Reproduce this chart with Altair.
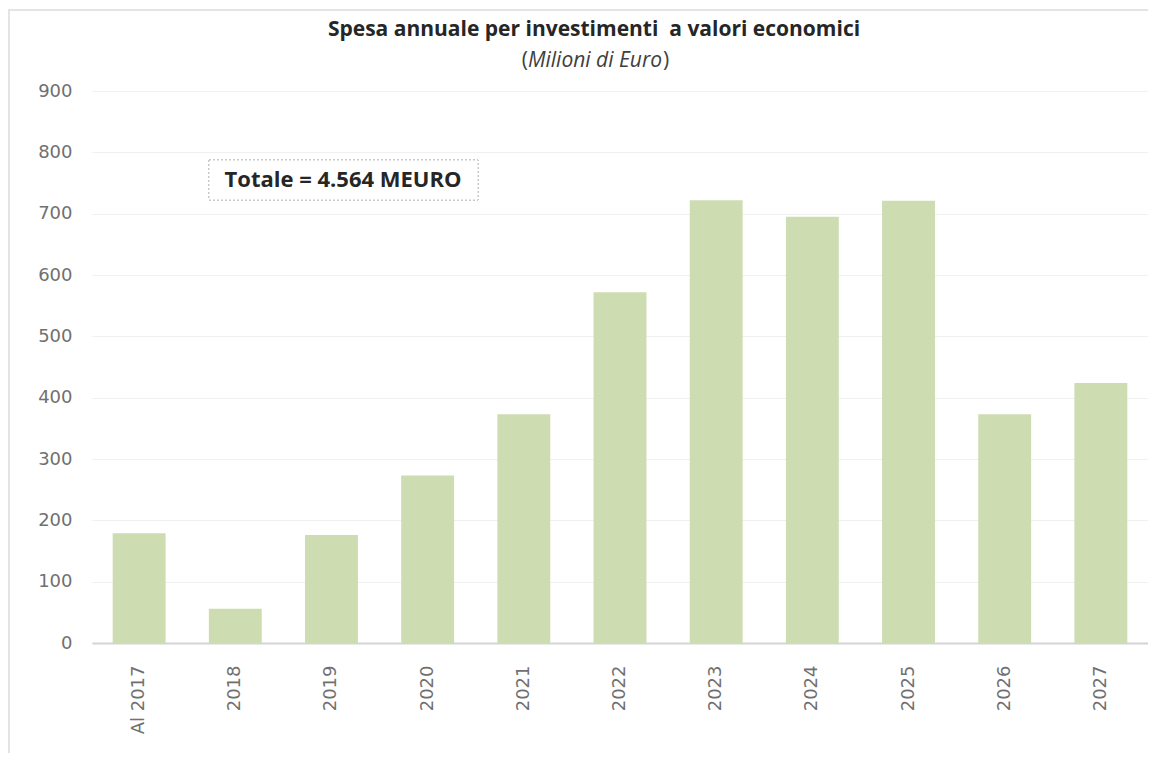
import altair as alt
import pandas as pd

categories = ["Al 2017", "2018", "2019", "2020", "2021", "2022", "2023", "2024", "2025", "2026", "2027"]
values = [179, 56, 176, 273, 373, 572, 722, 695, 721, 373, 424]
y_ticks = [0, 100, 200, 300, 400, 500, 600, 700, 800, 900]

title_text = "Spesa annuale per investimenti \u00a0a valori economici"
subtitle_text = "Milioni di Euro"
total_text = "Totale = 4.564 MEURO"

df = pd.DataFrame({"anno": categories, "valore": values})

FONT = "Open Sans"
LABEL_FONT = "DejaVu Sans"
BAR_COLOR = "#cddcb1"
LABEL_COLOR = "#707070"

W, H = 1056, 552

bars = alt.Chart(df).mark_bar(color=BAR_COLOR).encode(
    x=alt.X("anno:N", sort=categories, title=None,
            scale=alt.Scale(paddingInner=0.45, paddingOuter=0.215),
            axis=alt.Axis(labelAngle=270, labelAlign="right", labelBaseline="middle",
                          labelPadding=22, ticks=False, domainColor="#d4d4d4",
                          domainWidth=2, labelFont=LABEL_FONT, labelFontSize=18,
                          labelColor=LABEL_COLOR, grid=False)),
    y=alt.Y("valore:Q", title=None,
            scale=alt.Scale(domain=[0, 900], nice=False),
            axis=alt.Axis(values=y_ticks, ticks=False, domain=False, labelPadding=20,
                          labelFont=LABEL_FONT, labelFontSize=18, labelColor=LABEL_COLOR,
                          gridColor="#f0f0f0", gridWidth=1)),
)

frame = alt.Chart(df).mark_rect(fill=None, stroke="#e4e4e4", strokeWidth=1.5).encode(
    x=alt.value(-83), x2=alt.value(W + 20), y=alt.value(-81), y2=alt.value(669)
)

box = alt.Chart(df).mark_rect(fill="white", stroke="#c8c8c8", strokeDash=[2, 2], strokeWidth=1).encode(
    x=alt.value(117), x2=alt.value(386), y=alt.value(69), y2=alt.value(109)
)

total = alt.Chart(pd.DataFrame({"t": [total_text]})).mark_text(
    font=FONT, fontSize=22, fontWeight="bold", color="#262626", align="center", baseline="middle"
).encode(text="t:N", x=alt.value(251), y=alt.value(89))

title = alt.Chart(pd.DataFrame({"t": [title_text]})).mark_text(
    font=FONT, fontSize=21, fontWeight="bold", color="#262626", align="center", baseline="middle"
).encode(text="t:N", x=alt.value(502), y=alt.value(-61))

sub = alt.Chart(pd.DataFrame({"t": [subtitle_text]})).mark_text(
    font=FONT, fontSize=21, fontStyle="italic", color="#404040", align="center", baseline="middle"
).encode(text="t:N", x=alt.value(503), y=alt.value(-30))

lpar = alt.Chart(pd.DataFrame({"t": ["("]})).mark_text(
    font=FONT, fontSize=21, color="#404040", align="right", baseline="middle"
).encode(text="t:N", x=alt.value(436), y=alt.value(-30))

rpar = alt.Chart(pd.DataFrame({"t": [")"]})).mark_text(
    font=FONT, fontSize=21, color="#404040", align="left", baseline="middle"
).encode(text="t:N", x=alt.value(571), y=alt.value(-30))

chart = alt.layer(frame, bars, box, total, title, sub, lpar, rpar).properties(
    width=W, height=H,
    autosize=alt.AutoSizeParams(type="none"),
    padding={"left": 84, "top": 83, "right": 0, "bottom": 110},
    background="white",
).configure_view(stroke=None)

chart.save("out.html", embed_options={"renderer": "svg", "actions": False})
